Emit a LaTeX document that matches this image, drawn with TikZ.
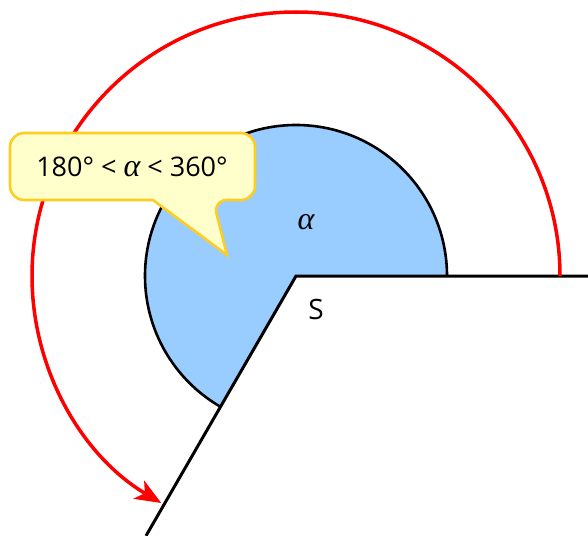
\documentclass[tikz,border=0pt]{standalone}
\usepackage{fontspec}
\setmainfont{Open Sans}
\newfontfamily\alphafont{Liberation Serif}
\newcommand{\myalpha}{{\alphafont\itshape α}}
\usetikzlibrary{arrows.meta,calc}
\definecolor{sectorblue}{HTML}{99CCFF}
\definecolor{calloutfill}{HTML}{FFFFCC}
\definecolor{calloutdraw}{HTML}{FFCC22}
\definecolor{arcred}{HTML}{FF0000}
\tikzset{
  ray/.style={line width=3pt, black},
  sector/.style={fill=sectorblue},
  sectorarc/.style={line width=2.6pt, black},
  bigarc/.style={line width=3.5pt, arcred, -{Stealth[length=26pt,width=21pt,inset=7pt]}},
  callout/.style={fill=calloutfill, draw=calloutdraw, line width=2.6pt, rounded corners=14pt},
  lbl/.style={inner sep=0pt, text=black}
}
\begin{document}
\begin{tikzpicture}[x=1pt,y=1pt]
\useasboundingbox (0,0) rectangle (588,-535);
\coordinate (S) at (296,-276);
% blue sector
\path[sector] (S) -- ++(0:151) arc[start angle=0, end angle=240, radius=151] -- cycle;
\draw[sectorarc] (S) ++(0:151) arc[start angle=0, end angle=240, radius=151];
% rays
\coordinate (R1) at (588,-276);
\coordinate (R2) at ($(S)+(240:300)$);
\draw[ray, line cap=butt, line join=miter] (R1) -- (S) -- (R2);
% red arc
\coordinate (A0) at ($(S)+(0:264)$);
\draw[bigarc] (A0) arc[start angle=0, end angle=239.3, radius=264];
% callout
\draw[callout] (10,-133) -- (255,-133) -- (255,-200) -- (213,-200)
  [sharp corners] -- (227,-255) -- (153,-200) [rounded corners=14pt] -- (10,-200) -- cycle;
\node[lbl, font=\fontsize{27}{30}\selectfont] (txt) at (132,-167) {180° < \fontsize{32}{32}\selectfont\myalpha\fontsize{27}{30}\selectfont{} < 360°};
\node[lbl, font=\fontsize{32}{34}\selectfont] (alpha) at (306,-222) {\myalpha};
\node[lbl, font=\fontsize{28}{32}\selectfont] (Slbl) at (316,-309) {S};
\end{tikzpicture}
\end{document}
